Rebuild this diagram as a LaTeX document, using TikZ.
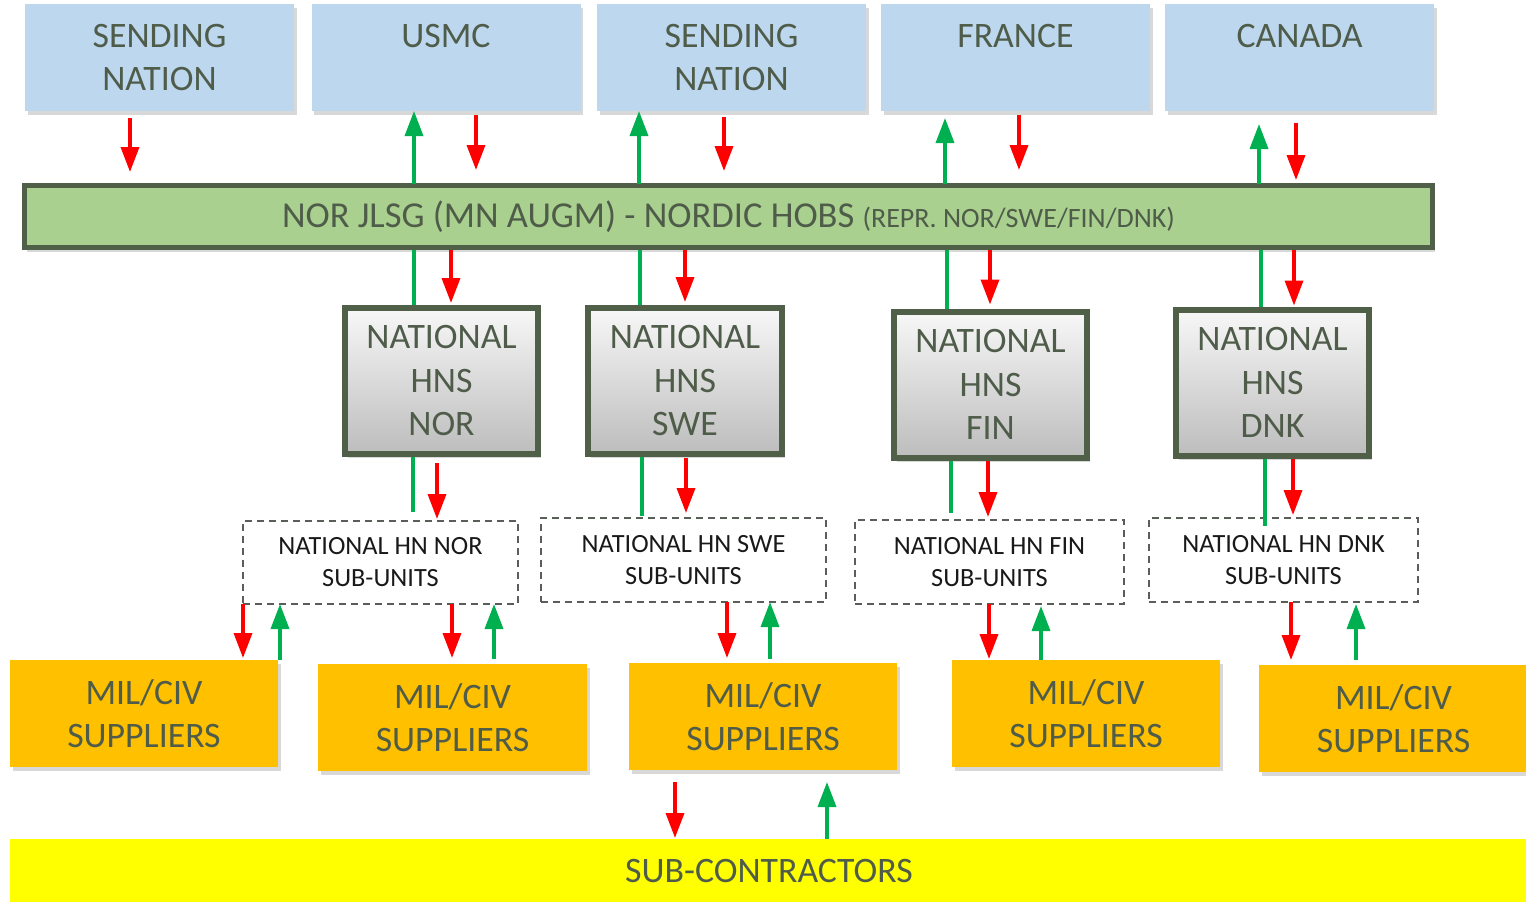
\documentclass[tikz,border=0pt]{standalone}
\usepackage{fontspec}
\setmainfont{Carlito}
\usetikzlibrary{arrows.meta,shadows}
\definecolor{cblue}{HTML}{BDD7EE}
\definecolor{cbar}{HTML}{A9D08E}
\definecolor{cdark}{HTML}{4F5F48}
\definecolor{corange}{HTML}{FFC000}
\definecolor{cyellow}{HTML}{FFFF00}
\definecolor{cred}{HTML}{FF0000}
\definecolor{cgreen}{HTML}{00B050}
\definecolor{ctext}{HTML}{4E5C49}
\definecolor{cdash}{HTML}{595F58}
\begin{document}
\begin{tikzpicture}[x=1pt,y=-1pt,
  shad/.style={drop shadow={opacity=0.3,shadow xshift=2.5pt,shadow yshift=-4pt}},
  bigtxt/.style={font=\fontsize{35.8pt}{43.5pt}\selectfont,text=ctext,align=center},
  bluebox/.style={shad,fill=cblue,bigtxt,minimum width=269pt,minimum height=107pt,inner sep=0pt,outer sep=0pt},
  barbox/.style={shad,fill=cbar,draw=cdark,line width=5pt,bigtxt,minimum width=1408pt,minimum height=62pt,inner sep=0pt,outer sep=0pt},
  hnsbox/.style={shad,top color=white!97!black,bottom color=black!26,draw=cdark,line width=6pt,bigtxt,minimum width=193pt,minimum height=146pt,inner sep=0pt,outer sep=0pt},
  subbox/.style={draw=cdash,dash pattern=on 7pt off 5pt,line width=1.6pt,fill=white,font=\fontsize{26.3pt}{32pt}\selectfont,text=black!90,align=center,minimum height=84pt,inner sep=0pt,outer sep=0pt},
  supbox/.style={shad,fill=corange,bigtxt,minimum width=268pt,minimum height=107pt,inner sep=0pt,outer sep=0pt},
  subcbox/.style={fill=cyellow,bigtxt,minimum width=1518pt,minimum height=65pt,inner sep=0pt,outer sep=0pt},
  rd/.style={draw=cred,line width=3.5pt,-{Triangle[width=18pt,length=25pt]}},
  gr/.style={draw=cgreen,line width=3.5pt,-{Triangle[width=18pt,length=25pt]}},
  gl/.style={draw=cgreen,line width=3.5pt}
]
\useasboundingbox (0,0) rectangle (1526,902);
\clip (0,0) rectangle (1526,902);
\fill[white] (0,0) rectangle (1526,902);

% top boxes
\node[bluebox] (sn1) at (159.5,57.5) {SENDING\\NATION};
\node[bluebox] (usmc) at (446,57.5) {USMC\\\phantom{X}};
\node[bluebox] (sn2) at (731.5,57.5) {SENDING\\NATION};
\node[bluebox] (fra) at (1015.5,57.5) {FRANCE\\\phantom{X}};
\node[bluebox] (can) at (1299.5,57.5) {CANADA\\\phantom{X}};

% bar
\node[barbox] (bar) at (728.5,216.5) {\fontsize{36.5pt}{40pt}\selectfont NOR JLSG (MN AUGM) - NORDIC HOBS {\fontsize{28pt}{30pt}\selectfont (REPR. NOR/SWE/FIN/DNK)}};

% national HNS
\node[hnsbox] (h1) at (441.5,381) {NATIONAL\\HNS\\NOR};
\node[hnsbox,minimum width=194pt] (h2) at (685,381) {NATIONAL\\HNS\\SWE};
\node[hnsbox] (h3) at (990.5,384.5) {NATIONAL\\HNS\\FIN};
\node[hnsbox] (h4) at (1272.5,382.5) {NATIONAL\\HNS\\DNK};

% sub-units
\node[subbox,minimum width=275pt,minimum height=83pt] (s1) at (380.5,562.5) {NATIONAL HN NOR\\SUB-UNITS};
\node[subbox,minimum width=285pt] (s2) at (683.5,560) {NATIONAL HN SWE\\SUB-UNITS};
\node[subbox,minimum width=269pt] (s3) at (989.5,562) {NATIONAL HN FIN\\SUB-UNITS};
\node[subbox,minimum width=269pt] (s4) at (1283.5,560) {NATIONAL HN DNK\\SUB-UNITS};

% suppliers
\node[supbox] (p1) at (144,713.5) {MIL/CIV\\SUPPLIERS};
\node[supbox,minimum width=269pt] (p2) at (452.5,717.5) {MIL/CIV\\SUPPLIERS};
\node[supbox] (p3) at (763,716.5) {MIL/CIV\\SUPPLIERS};
\node[supbox] (p4) at (1086,713.5) {MIL/CIV\\SUPPLIERS};
\node[supbox,minimum width=269pt] (p5) at (1393.5,718.5) {MIL/CIV\\SUPPLIERS};

% sub-contractors
\node[subcbox] (sc) at (769,871.5) {SUB-CONTRACTORS};

% top level arrows
\draw[rd,shorten <=7pt,shorten >=13.5pt] (sn1.south -| 130,0) -- (bar.north -| 130,0);
\draw[gr,shorten <=2pt] (bar.north -| 414,0) -- (usmc.south -| 414,0);
\draw[rd,shorten <=4pt,shorten >=15.5pt] (usmc.south -| 476,0) -- (bar.north -| 476,0);
\draw[gr,shorten <=2pt] (bar.north -| 639,0) -- (sn2.south -| 639,0);
\draw[rd,shorten <=6pt,shorten >=14.5pt] (sn2.south -| 724,0) -- (bar.north -| 724,0);
\draw[gr,shorten <=2pt,shorten >=7pt] (bar.north -| 945,0) -- (fra.south -| 945,0);
\draw[rd,shorten <=4pt,shorten >=15.5pt] (fra.south -| 1019,0) -- (bar.north -| 1019,0);
\draw[gr,shorten <=2pt,shorten >=13pt] (bar.north -| 1259,0) -- (can.south -| 1259,0);
\draw[rd,shorten <=12pt,shorten >=5.5pt] (can.south -| 1296,0) -- (bar.north -| 1296,0);

% bar to national HNS
\draw[gl,shorten <=2.5pt,shorten >=3pt] (bar.south -| 414,0) -- (h1.north -| 414,0);
\draw[rd,shorten <=2.5pt,shorten >=5pt] (bar.south -| 451,0) -- (h1.north -| 451,0);
\draw[gl,shorten <=2.5pt,shorten >=3pt] (bar.south -| 640,0) -- (h2.north -| 640,0);
\draw[rd,shorten <=2.5pt,shorten >=6pt] (bar.south -| 685,0) -- (h2.north -| 685,0);
\draw[gl,shorten <=2.5pt,shorten >=3pt] (bar.south -| 947,0) -- (h3.north -| 947,0);
\draw[rd,shorten <=2.5pt,shorten >=7pt] (bar.south -| 990,0) -- (h3.north -| 990,0);
\draw[gl,shorten <=2.5pt,shorten >=3pt] (bar.south -| 1261,0) -- (h4.north -| 1261,0);
\draw[rd,shorten <=2.5pt,shorten >=4pt] (bar.south -| 1294,0) -- (h4.north -| 1294,0);

% national HNS to sub-units
\draw[gl,shorten <=3pt,shorten >=9pt] (h1.south -| 413,0) -- (s1.north -| 413,0);
\draw[rd,shorten <=9pt,shorten >=2pt] (h1.south -| 437,0) -- (s1.north -| 437,0);
\draw[gl,shorten <=3pt,shorten >=2pt] (h2.south -| 642,0) -- (s2.north -| 642,0);
\draw[rd,shorten <=4pt,shorten >=5pt] (h2.south -| 686,0) -- (s2.north -| 686,0);
\draw[gl,shorten <=3pt,shorten >=7pt] (h3.south -| 951,0) -- (s3.north -| 951,0);
\draw[rd,shorten <=3pt,shorten >=3pt] (h3.south -| 988,0) -- (s3.north -| 988,0);
\draw[gl,shorten <=3pt,shorten >=-8pt] (h4.south -| 1265,0) -- (s4.north -| 1265,0);
\draw[rd,shorten <=3pt,shorten >=3pt] (h4.south -| 1293,0) -- (s4.north -| 1293,0);

% sub-units to suppliers
\draw[rd,shorten >=2pt] (s1.south -| 243,0) -- (p1.north -| 243,0);
\draw[gr] (p1.north -| 280,0) -- (s1.south -| 280,0);
\draw[rd,shorten >=6pt] (s1.south -| 452,0) -- (p2.north -| 452,0);
\draw[gr,shorten <=5pt] (p2.north -| 494,0) -- (s1.south -| 494,0);
\draw[rd,shorten >=5pt] (s2.south -| 727,0) -- (p3.north -| 727,0);
\draw[gr,shorten <=4pt] (p3.north -| 770,0) -- (s2.south -| 770,0);
\draw[rd,shorten >=1pt] (s3.south -| 989,0) -- (p4.north -| 989,0);
\draw[gr,shorten >=2pt] (p4.north -| 1041,0) -- (s3.south -| 1041,0);
\draw[rd,shorten >=5pt] (s4.south -| 1291,0) -- (p5.north -| 1291,0);
\draw[gr,shorten <=5pt,shorten >=2pt] (p5.north -| 1356,0) -- (s4.south -| 1356,0);

% suppliers to sub-contractors
\draw[rd,shorten <=12pt,shorten >=1pt] (p3.south -| 675,0) -- (sc.north -| 675,0);
\draw[gr,shorten >=12pt] (sc.north -| 827,0) -- (p3.south -| 827,0);
\end{tikzpicture}
\end{document}
